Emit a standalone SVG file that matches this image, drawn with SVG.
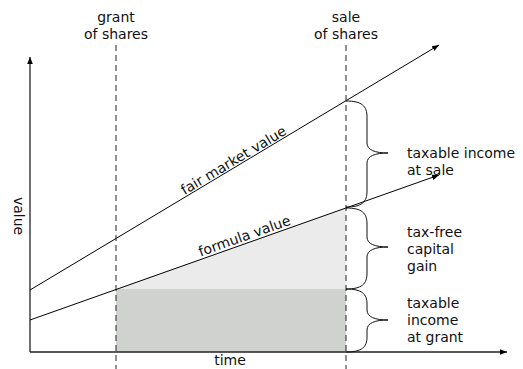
<svg xmlns="http://www.w3.org/2000/svg" width="523" height="369" viewBox="0 0 523 369">
<defs>
<marker id="arr" viewBox="0 0 10 10" refX="10" refY="5" markerWidth="7" markerHeight="7" markerUnits="userSpaceOnUse" orient="auto">
<path d="M0,1 L10,5 L0,9 z" fill="#000"/>
</marker>
</defs>
<style>
text{font-family:"DejaVu Sans","Verdana",sans-serif;font-size:14px;fill:#111}
.ln{stroke:#000;stroke-width:1;fill:none}
.ax{stroke:#222;stroke-width:1.3;fill:none}
.dash{stroke:#222;stroke-width:1;stroke-dasharray:6,4;fill:none}
.brace{stroke:#111;stroke-width:1;fill:none}
</style>
<g id="areas">
<rect x="116" y="289" width="230" height="63" fill="#d0d2d0"/>
<polygon points="116,289 346,208 346,289" fill="#ebebeb"/>
</g>
<g id="connectors">
<line class="ax" x1="30" y1="352" x2="30" y2="57" marker-end="url(#arr)"/>
<line class="ax" x1="30" y1="352" x2="507" y2="352" marker-end="url(#arr)"/>
<line class="dash" x1="116" y1="45" x2="116" y2="369"/>
<line class="dash" x1="346" y1="45" x2="346" y2="369"/>
<line class="ln" x1="30" y1="290" x2="439" y2="45" marker-end="url(#arr)"/>
<line class="ln" x1="30" y1="320" x2="439" y2="175" marker-end="url(#arr)"/>
</g>
<g id="braces">
<path class="brace" d="M346,101 C362,101 367,106 367,117 L367,143 C367,150 375,153 388,153 C375,153 367,156 367,163 L367,191 C367,202 362,207 346,207"/>
<path class="brace" d="M346,208 C362,208 367,213 367,224 L367,237 C367,244 375,247 388,247 C375,247 367,250 367,257 L367,273 C367,284 362,289 346,289"/>
<path class="brace" d="M346,289 C362,289 367,294 367,304 L367,310 C367,317 375,320 388,320 C375,320 367,323 367,330 L367,337 C367,347 362,352 346,352"/>
</g>
<g id="labels">
<text x="116" y="22" text-anchor="middle">grant</text>
<text x="116" y="39" text-anchor="middle">of shares</text>
<text x="346" y="22" text-anchor="middle">sale</text>
<text x="346" y="39" text-anchor="middle">of shares</text>
<text x="407" y="158">taxable income</text>
<text x="407" y="175">at sale</text>
<text x="407" y="237">tax-free</text>
<text x="407" y="254">capital</text>
<text x="407" y="271">gain</text>
<text x="407" y="308">taxable</text>
<text x="407" y="325">income</text>
<text x="407" y="342">at grant</text>
<text x="230" y="365" text-anchor="middle">time</text>
<text transform="translate(14,216) rotate(90)" text-anchor="middle">value</text>
<text transform="translate(236,164.5) rotate(-30.9)" text-anchor="middle">fair market value</text>
<text transform="translate(246,240.5) rotate(-19.5)" text-anchor="middle">formula value</text>
</g>
</svg>
